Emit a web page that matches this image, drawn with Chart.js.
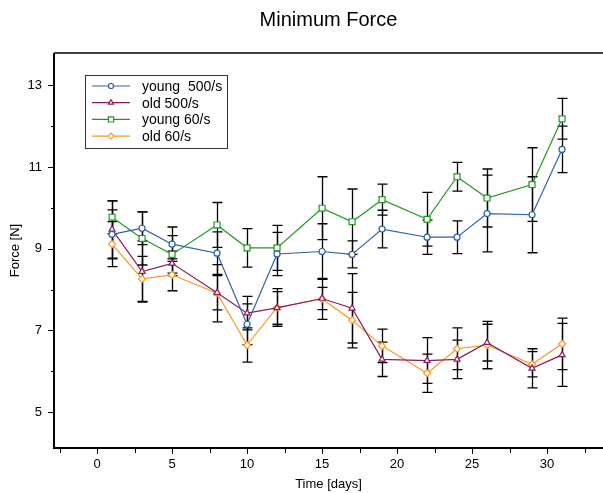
<!DOCTYPE html>
<html>
<head>
<meta charset="utf-8">
<title>Minimum Force</title>
<script src="https://cdn.jsdelivr.net/npm/chart.js@4.4.0/dist/chart.umd.min.js"></script>
<style>
    html, body { margin: 0; padding: 0; background: #fff; }
    #wrap { width: 603px; height: 493px; }
</style>
</head>
<body>
<div id="wrap"><canvas id="forceChart" width="603" height="493"></canvas></div>
<script>
// Measurement days
const days = [1, 3, 5, 8, 10, 12, 15, 17, 19, 22, 24, 26, 29, 31];

// Mean values per group
const young500 = [9.35, 9.50, 9.11, 8.89, 7.15, 8.87, 8.93, 8.86, 9.48, 9.28, 9.28, 9.86, 9.83, 11.43];
const old500   = [9.47, 8.44, 8.64, 7.92, 7.42, 7.55, 7.78, 7.54, 6.29, 6.26, 6.29, 6.70, 6.07, 6.40];
const young60  = [9.77, 9.25, 8.86, 9.58, 9.02, 9.02, 9.99, 9.66, 10.20, 9.72, 10.76, 10.24, 10.57, 12.18];
const old60    = [9.11, 8.26, 8.36, 7.91, 6.64, 7.56, 7.77, 7.25, 6.62, 5.95, 6.55, 6.64, 6.17, 6.67];

// Error bar half-widths (SD)
const young500Err = [0.60, 0.40, 0.42, 0.52, 0.50, 0.53, 0.68, 0.33, 0.46, 0.42, 0.40, 0.94, 0.93, 0.57];
const old500Err   = [0.70, 0.75, 0.30, 0.42, 0.41, 0.40, 0.27, 0.85, 0.42, 0.56, 0.47, 0.45, 0.48, 0.77];
const young60Err  = [0.40, 0.65, 0.46, 0.55, 0.47, 0.55, 0.77, 0.80, 0.38, 0.66, 0.35, 0.71, 0.90, 0.50];
const old60Err    = [0.55, 0.55, 0.39, 0.70, 0.42, 0.46, 0.50, 0.68, 0.41, 0.47, 0.51, 0.58, 0.31, 0.63];

const seriesLabels = ['young  500/s', 'old 500/s', 'young 60/s', 'old 60/s'];

const FONT = "'Liberation Sans', Arial, sans-serif";

function toPoints(values) {
    return values.map((v, i) => ({ x: days[i], y: v }));
}

function makeDataset(label, values, errors, color, style, radius) {
    return {
        label: label,
        data: toPoints(values),
        errors: errors,
        borderColor: color,
        borderWidth: 1.2,
        pointStyle: style,
        pointRadius: radius,
        pointBorderWidth: 1.2,
        pointBorderColor: color,
        pointBackgroundColor: '#fff',
        tension: 0,
        fill: false
    };
}

// Error bars go under the lines and markers
const errorBars = {
    id: 'errorBars',
    beforeDatasetsDraw(chart) {
        const { ctx, scales: { x, y } } = chart;
        ctx.save();
        ctx.strokeStyle = '#000';
        ctx.lineWidth = 1.3;
        chart.data.datasets.forEach(ds => {
            ds.data.forEach((pt, i) => {
                const px = Math.round(x.getPixelForValue(pt.x)) + 0.5;
                const top = y.getPixelForValue(pt.y + ds.errors[i]);
                const bot = y.getPixelForValue(pt.y - ds.errors[i]);
                ctx.beginPath();
                ctx.moveTo(px, top);
                ctx.lineTo(px, bot);
                ctx.moveTo(px - 5, top);
                ctx.lineTo(px + 5, top);
                ctx.moveTo(px - 5, bot);
                ctx.lineTo(px + 5, bot);
                ctx.stroke();
            });
        });
        ctx.restore();
    }
};

// Frame, tick marks, title, axis titles and legend
const frame = {
    id: 'frame',
    afterDraw(chart) {
        const { ctx, chartArea: area, scales: { x, y } } = chart;
        ctx.save();

        // axis lines
        ctx.strokeStyle = '#000';
        ctx.lineWidth = 2;
        ctx.beginPath();
        ctx.moveTo(area.left, area.top);
        ctx.lineTo(area.left, area.bottom);
        ctx.lineTo(area.right, area.bottom);
        ctx.stroke();
        ctx.lineWidth = 1.5;
        ctx.beginPath();
        ctx.moveTo(area.left, area.top);
        ctx.lineTo(area.right, area.top);
        ctx.stroke();

        // tick marks
        ctx.lineWidth = 1;
        ctx.beginPath();
        x.ticks.forEach(t => {
            const px = Math.round(x.getPixelForValue(t.value)) + 0.5;
            const len = t.value % 5 === 0 ? 6 : 5;
            ctx.moveTo(px, area.bottom);
            ctx.lineTo(px, area.bottom + len);
        });
        y.ticks.forEach(t => {
            const py = Math.round(y.getPixelForValue(t.value)) + 0.5;
            const len = t.value % 2 === 1 ? 6 : 3;
            ctx.moveTo(area.left, py);
            ctx.lineTo(area.left - len, py);
        });
        ctx.stroke();

        // title
        ctx.fillStyle = '#000';
        ctx.textAlign = 'center';
        ctx.textBaseline = 'middle';
        ctx.font = '20px ' + FONT;
        ctx.fillText('Minimum Force', (area.left + area.right) / 2, 20);

        // axis titles
        ctx.font = '13px ' + FONT;
        ctx.fillText('Time [days]', (area.left + area.right) / 2, 484);
        ctx.save();
        ctx.translate(15, (area.top + area.bottom) / 2);
        ctx.rotate(-Math.PI / 2);
        ctx.fillText('Force [N]', 0, 0);
        ctx.restore();

        // legend
        ctx.fillStyle = '#fff';
        ctx.fillRect(85, 75, 143, 73);
        ctx.strokeStyle = '#333';
        ctx.lineWidth = 1;
        ctx.strokeRect(85.5, 75.5, 142, 73);
        ctx.font = '14px ' + FONT;
        ctx.textAlign = 'left';
        chart.data.datasets.forEach((ds, i) => {
            const ry = 86 + i * 16.7;
            ctx.strokeStyle = ds.borderColor;
            ctx.lineWidth = 1.2;
            ctx.beginPath();
            ctx.moveTo(92, ry);
            ctx.lineTo(130, ry);
            ctx.stroke();
            ctx.fillStyle = '#fff';
            Chart.helpers.drawPoint(ctx, {
                pointStyle: ds.pointStyle,
                radius: ds.pointRadius - 0.5,
                borderWidth: 1.2,
                rotation: 0
            }, 111, ry);
            ctx.fillStyle = '#000';
            ctx.fillText(ds.label, 142, ry + 1);
        });

        ctx.restore();
    }
};

const ctx = document.getElementById('forceChart').getContext('2d');
window.forceChart = new Chart(ctx, {
    type: 'line',
    data: {
        datasets: [
            makeDataset(seriesLabels[0], young500, young500Err, '#2a62a8', 'circle', 3),
            makeDataset(seriesLabels[1], old500, old500Err, '#8e1a5e', 'triangle', 3.5),
            makeDataset(seriesLabels[2], young60, young60Err, '#1e9a1e', 'rect', 4.2),
            makeDataset(seriesLabels[3], old60, old60Err, '#ff961e', 'rectRot', 3.5)
        ]
    },
    options: {
        responsive: false,
        animation: false,
        layout: { autoPadding: false, padding: { top: 53, left: 0, right: 0, bottom: 0 } },
        plugins: {
            legend: { display: false },
            title: { display: false },
            tooltip: { enabled: false }
        },
        scales: {
            x: {
                type: 'linear',
                min: -2.87,
                max: 33.73,
                afterFit: s => { s.height = 45; s.paddingLeft = 0; s.paddingRight = 0; },
                border: { display: false },
                grid: { display: true, drawOnChartArea: false, drawTicks: true, tickLength: 6, tickColor: 'rgba(0,0,0,0)' },
                ticks: {
                    stepSize: 2.5,
                    includeBounds: false,
                    autoSkip: false,
                    maxRotation: 0,
                    padding: 3,
                    color: '#000',
                    font: { family: FONT, size: 13 },
                    callback: v => (v % 5 === 0 ? String(v) : '')
                }
            },
            y: {
                min: 4.12,
                max: 13.79,
                afterFit: s => { s.width = 54; s.paddingTop = 0; s.paddingBottom = 0; },
                border: { display: false },
                grid: { display: true, drawOnChartArea: false, drawTicks: true, tickLength: 6, tickColor: 'rgba(0,0,0,0)' },
                ticks: {
                    stepSize: 1,
                    includeBounds: false,
                    autoSkip: false,
                    padding: 6,
                    color: '#000',
                    font: { family: FONT, size: 13 },
                    callback: v => (v % 2 === 1 ? String(v) : '')
                }
            }
        }
    },
    plugins: [errorBars, frame]
});
</script>
</body>
</html>
